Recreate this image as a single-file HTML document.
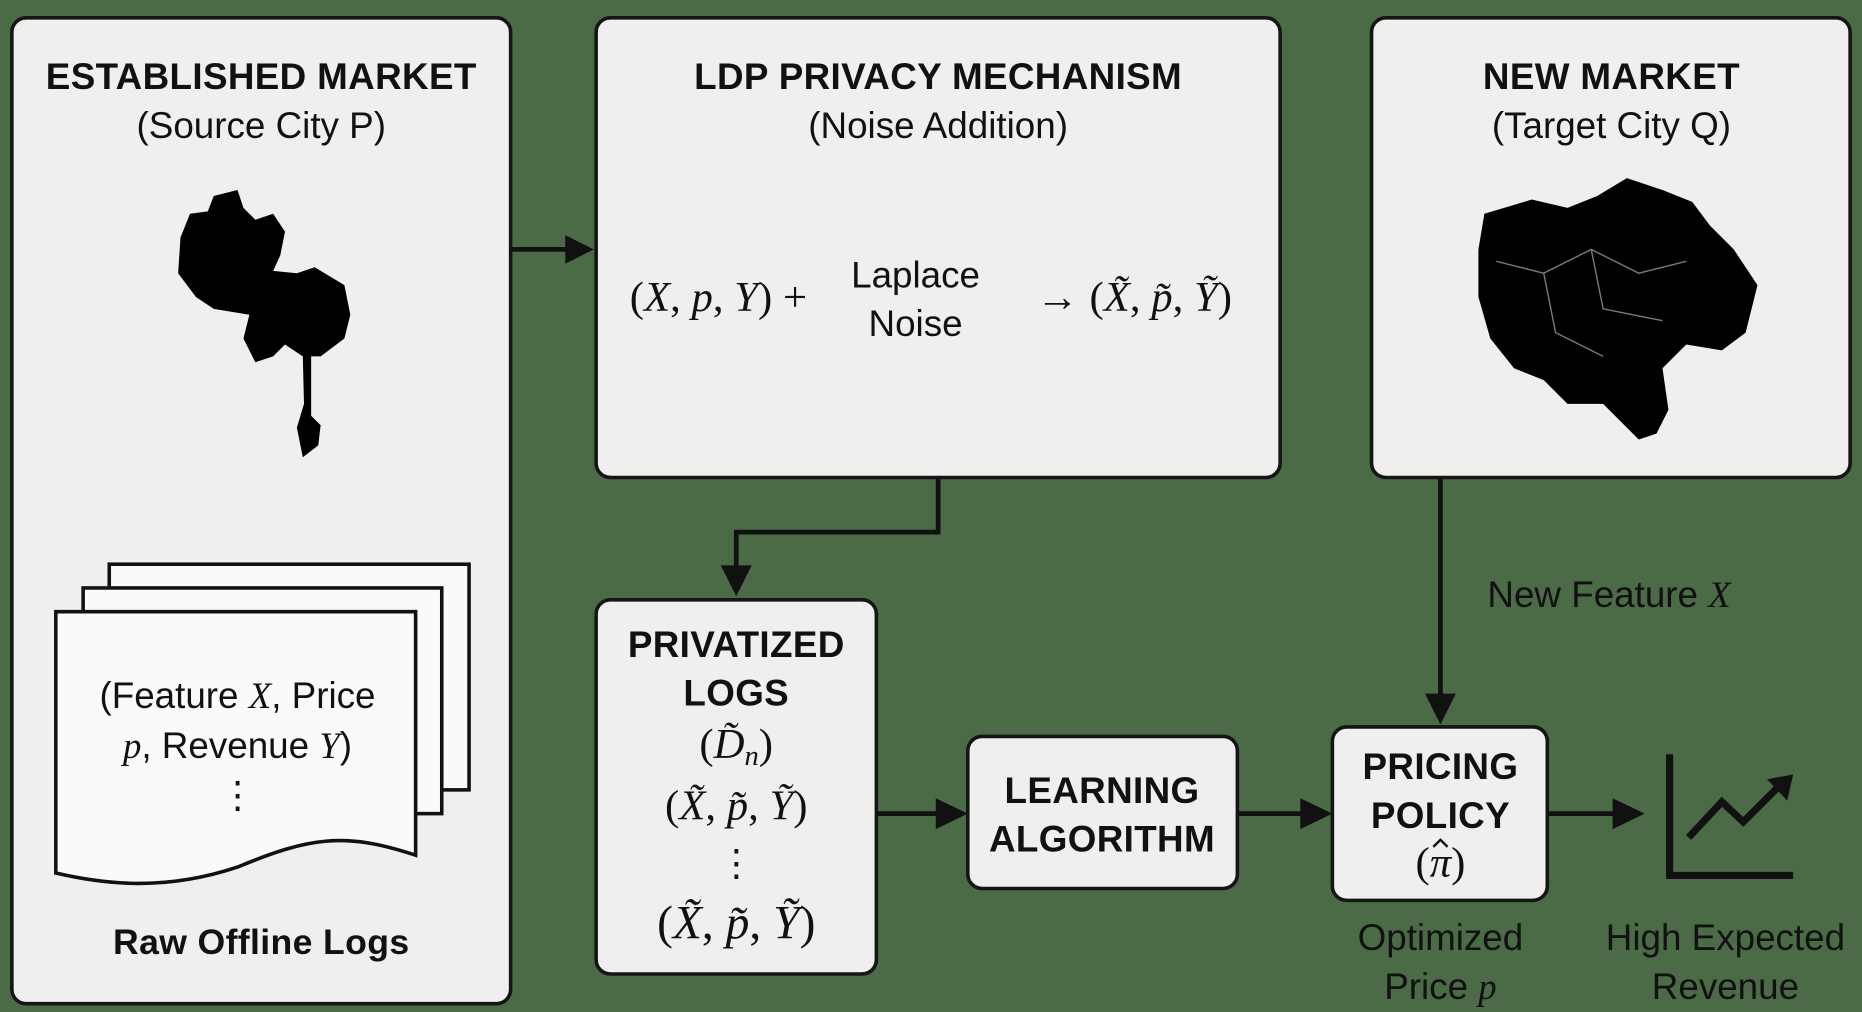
<!DOCTYPE html>
<html><head><meta charset="utf-8"><style>
html,body{margin:0;padding:0;background:#4b6a46;}
svg{display:block}
.t{font-family:"Liberation Sans",sans-serif;font-weight:bold;font-size:31px;fill:#111;text-anchor:middle;letter-spacing:0.3px}
.n{font-family:"Liberation Sans",sans-serif;font-size:31px;fill:#111;text-anchor:middle}
.m{font-family:"Liberation Serif",serif;font-size:36px;fill:#111;text-anchor:middle}
.mi{font-family:"Liberation Serif",serif;font-style:italic}
</style></head><body>
<svg width="1862" height="1012" viewBox="0 0 1568 852" preserveAspectRatio="none" xmlns="http://www.w3.org/2000/svg">
<rect width="1568" height="852" fill="#4b6a46"/>
<g fill="#efefee" stroke="#151515" stroke-width="3">
<rect x="10" y="15" width="420" height="830" rx="12"/>
<rect x="502" y="15" width="576" height="387" rx="12"/>
<rect x="1155" y="15" width="403" height="387" rx="12"/>
<rect x="502" y="505" width="236" height="315" rx="12"/>
<rect x="815" y="620" width="227" height="128" rx="12"/>
<rect x="1122" y="612" width="181" height="146" rx="12"/>
</g>
<g stroke="#111" stroke-width="4" fill="none">
<path d="M430,210 H478"/>
<path d="M790,402 V448 H620 V478"/>
<path d="M1213,402 V585"/>
<path d="M738,685 H790"/>
<path d="M1042,685 H1097"/>
<path d="M1303,685 H1360"/>
</g>
<g fill="#111">
<path d="M500,210 L476,198 L476,222Z"/>
<path d="M620,502 L607,476 L633,476Z"/>
<path d="M1213,610 L1200,584 L1226,584Z"/>
<path d="M815,685 L788,672 L788,698Z"/>
<path d="M1122,685 L1095,672 L1095,698Z"/>
<path d="M1385,685 L1358,672 L1358,698Z"/>
</g>
<text class="t" x="220" y="75">ESTABLISHED MARKET</text>
<text class="n" x="220" y="116">(Source City P)</text>
<path d="M160,180 L175,178 L180,165 L200,160 L205,175 L215,185 L230,180 L240,195 L236,215 L230,228 L250,230 L265,225 L290,240 L295,265 L290,285 L270,300 L262,300 L262,350 L270,358 L268,375 L255,385 L250,360 L256,340 L255,300 L240,290 L230,300 L215,305 L205,285 L210,265 L180,260 L165,250 L150,230 L152,200Z" fill="#000"/>
<g fill="#fafafa" stroke="#111" stroke-width="3">
<rect x="92" y="475" width="303" height="190"/>
<rect x="70" y="495" width="302" height="190"/>
<path d="M47,515 H350 V720 C290,700 260,705 200,730 C140,750 90,745 47,735Z"/>
</g>
<text class="n" x="200" y="596">(Feature <tspan class="mi">X</tspan>, Price</text>
<text class="n" x="200" y="638"><tspan class="mi">p</tspan>, Revenue <tspan class="mi">Y</tspan>)</text>
<text class="n" x="200" y="680">⋮</text>
<text class="t" x="220" y="803" style="font-size:30px">Raw Offline Logs</text>
<text class="t" x="790" y="75">LDP PRIVACY MECHANISM</text>
<text class="n" x="790" y="116">(Noise Addition)</text>
<text class="m" x="605" y="262">(<tspan class="mi">X</tspan>, <tspan class="mi">p</tspan>, <tspan class="mi">Y</tspan>) +</text>
<text class="n" x="771" y="242">Laplace</text>
<text class="n" x="771" y="283">Noise</text>
<text class="m" x="955" y="262">→ (<tspan class="mi">X̃</tspan>, <tspan class="mi">p̃</tspan>, <tspan class="mi">Ỹ</tspan>)</text>
<text class="t" x="1357" y="75">NEW MARKET</text>
<text class="n" x="1357" y="116">(Target City Q)</text>
<path d="M1250,180 L1290,168 L1320,175 L1345,165 L1370,150 L1400,160 L1425,170 L1440,190 L1460,210 L1480,240 L1470,280 L1450,295 L1420,290 L1400,310 L1405,345 L1395,365 L1380,370 L1350,340 L1320,340 L1300,320 L1275,310 L1255,285 L1245,250 L1245,210Z" fill="#000"/>
<g stroke="#777" stroke-width="1.2" fill="none"><path d="M1260,220 L1300,230 L1340,210 L1380,230 L1420,220"/><path d="M1300,230 L1310,280 L1350,300"/><path d="M1340,210 L1350,260 L1400,270"/></g>
<text class="t" x="620" y="553">PRIVATIZED</text>
<text class="t" x="620" y="594">LOGS</text>
<text class="m" x="620" y="638">(<tspan class="mi">D̃<tspan font-size="24" dy="6">n</tspan></tspan><tspan dy="-6">)</tspan></text>
<text class="m" x="620" y="690">(<tspan class="mi">X̃</tspan>, <tspan class="mi">p̃</tspan>, <tspan class="mi">Ỹ</tspan>)</text>
<text class="n" x="620" y="737">⋮</text>
<text class="m" x="620" y="790" style="font-size:40px">(<tspan class="mi">X̃</tspan>, <tspan class="mi">p̃</tspan>, <tspan class="mi">Ỹ</tspan>)</text>
<text class="t" x="928" y="676">LEARNING</text>
<text class="t" x="928" y="717">ALGORITHM</text>
<text class="t" x="1213" y="656">PRICING</text>
<text class="t" x="1213" y="697">POLICY</text>
<text class="m" x="1213" y="738">(<tspan class="mi">π</tspan>)</text>
<path d="M1207,713 L1213,707 L1219,713" stroke="#111" stroke-width="2" fill="none"/>
<text class="n" x="1355" y="511">New Feature <tspan class="mi">X</tspan></text>
<text class="n" x="1213" y="800">Optimized</text>
<text class="n" x="1213" y="841">Price <tspan class="mi">p</tspan></text>
<text class="n" x="1453" y="800">High Expected</text>
<text class="n" x="1453" y="841">Revenue</text>
<g stroke="#111" stroke-width="6" fill="none">
<path d="M1406,635 V737 H1510"/>
<path d="M1422,705 L1450,675 L1468,692 L1500,660"/>
</g>
<path d="M1510,652 L1488,656 L1505,674Z" fill="#111"/>
</svg>
</body></html>
